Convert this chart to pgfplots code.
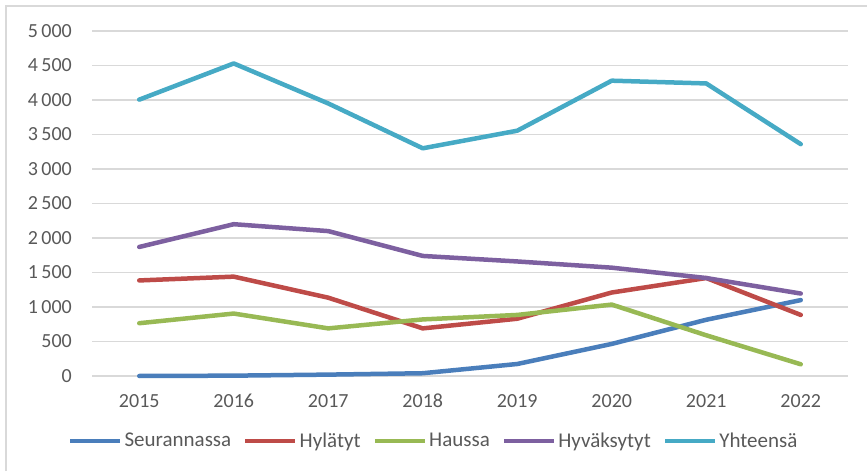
\documentclass[border=0pt]{standalone}
\usepackage{fontspec}
\setmainfont{Carlito}
\usepackage{pgfplots}
\pgfplotsset{compat=1.18}
\definecolor{txt}{HTML}{595959}
\definecolor{gridc}{HTML}{D9D9D9}
\definecolor{frame}{HTML}{D9D9D9}
\definecolor{cBlue}{HTML}{4A7EBB}
\definecolor{cRed}{HTML}{BE4B48}
\definecolor{cGreen}{HTML}{98B954}
\definecolor{cPurple}{HTML}{7D60A0}
\definecolor{cAqua}{HTML}{46AAC5}
\begin{document}
\begin{tikzpicture}[x=1pt,y=1pt]
\useasboundingbox (0,0) rectangle (867,471);
\draw[frame, line width=1.5pt] (6,0) -- (6,465) -- (867,465);
\begin{axis}[
  at={(92pt,95pt)}, anchor=south west,
  scale only axis, width=756pt, height=345pt,
  xmin=2014.5, xmax=2022.5, ymin=0, ymax=5000,
  xtick={2015,2016,2017,2018,2019,2020,2021,2022},
  xticklabels={2015,2016,2017,2018,2019,2020,2021,2022},
  ytick={0,500,1000,1500,2000,2500,3000,3500,4000,4500,5000},
  yticklabels={0,500,1\kern3.5pt000,1\kern3.5pt500,2\kern3.5pt000,2\kern3.5pt500,3\kern3.5pt000,3\kern3.5pt500,4\kern3.5pt000,4\kern3.5pt500,5\kern3.5pt000},
  major tick length=0pt,
  axis line style={draw=none},
  ymajorgrids, grid style={gridc, line width=1.5pt},
  tick label style={font=\fontsize{20}{23}\selectfont, text=txt},
  yticklabel style={anchor=east, inner sep=0pt, xshift=-20pt},
  xticklabel style={anchor=north, inner sep=0pt, yshift=-18pt},
  every axis plot/.append style={line width=4.5pt, line join=round, line cap=round},
  legend columns=5,
  legend style={draw=none, fill=none, at={(axis description cs:0.452,-0.188)}, anchor=center,
    font=\fontsize{21}{24}\selectfont, text=txt,
    /tikz/every even column/.append style={column sep=10pt},
    nodes={inner xsep=2pt, inner ysep=0pt}},
  legend cell align=left,
  legend image code/.code={\draw[#1, line cap=butt] (0pt,0pt) -- (50pt,0pt);},
  clip=false,
]
\addplot[cBlue] coordinates {(2015,0) (2016,5) (2017,20) (2018,40) (2019,174) (2020,465) (2021,815) (2022,1100)};
\addlegendentry{Seurannassa}
\addplot[cRed] coordinates {(2015,1385) (2016,1440) (2017,1135) (2018,690) (2019,830) (2020,1210) (2021,1420) (2022,885)};
\addlegendentry{Hylätyt}
\addplot[cGreen] coordinates {(2015,765) (2016,905) (2017,690) (2018,820) (2019,885) (2020,1035) (2021,590) (2022,170)};
\addlegendentry{Haussa}
\addplot[cPurple] coordinates {(2015,1870) (2016,2200) (2017,2100) (2018,1740) (2019,1660) (2020,1570) (2021,1420) (2022,1195)};
\addlegendentry{Hyväksytyt}
\addplot[cAqua] coordinates {(2015,4005) (2016,4530) (2017,3950) (2018,3300) (2019,3555) (2020,4280) (2021,4240) (2022,3360)};
\addlegendentry{Yhteensä}
\end{axis}
\end{tikzpicture}
\end{document}
